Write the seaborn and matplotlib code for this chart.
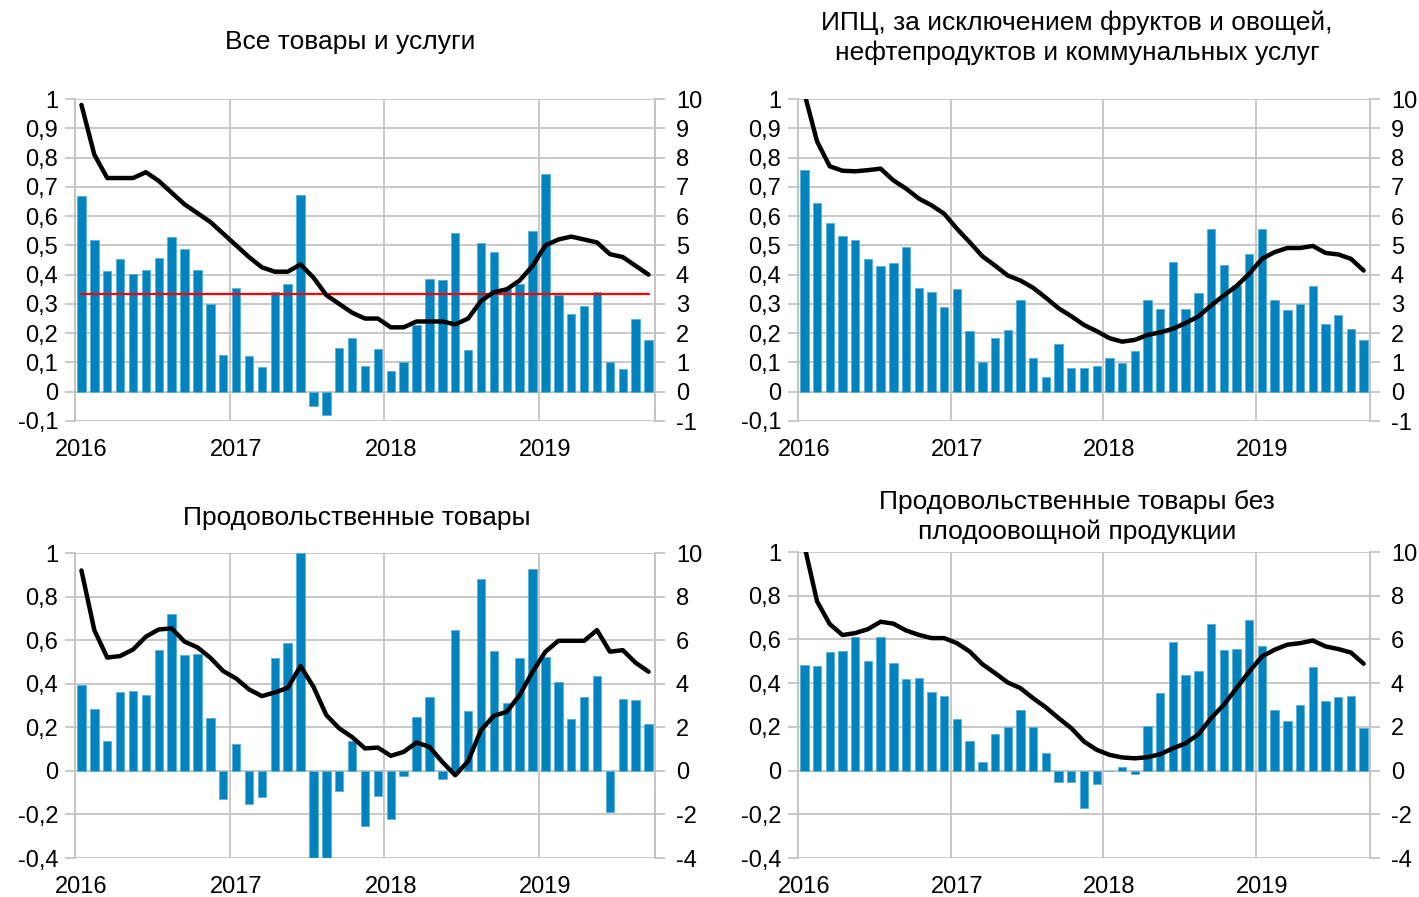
import numpy as np
import pandas as pd
import matplotlib
matplotlib.use('Agg')
import matplotlib.pyplot as plt
import seaborn as sns
from matplotlib.ticker import FixedLocator

# monthly data, Jan 2016 - Sep 2019 (45 months)
months = pd.date_range('2016-01-01', '2019-09-01', freq='MS')
years = ['2016', '2017', '2018', '2019']

# m/m, % SA (left axis)
all_mom = [0.67, 0.52, 0.412, 0.454, 0.402, 0.415, 0.456, 0.528, 0.489, 0.416, 0.30, 0.124,
           0.356, 0.123, 0.084, 0.34, 0.368, 0.672, -0.048, -0.079, 0.151, 0.183, 0.089, 0.147,
           0.072, 0.103, 0.227, 0.384, 0.38, 0.542, 0.143, 0.509, 0.478, 0.35, 0.369, 0.548,
           0.745, 0.33, 0.265, 0.294, 0.34, 0.101, 0.078, 0.25, 0.178]
core_mom = [0.758, 0.645, 0.578, 0.532, 0.517, 0.453, 0.429, 0.44, 0.493, 0.355, 0.34, 0.29,
            0.35, 0.208, 0.10, 0.183, 0.21, 0.314, 0.116, 0.05, 0.164, 0.082, 0.08, 0.089,
            0.115, 0.097, 0.139, 0.314, 0.283, 0.443, 0.282, 0.337, 0.555, 0.432, 0.366, 0.469,
            0.555, 0.312, 0.28, 0.299, 0.362, 0.232, 0.261, 0.215, 0.175]
food_mom = [0.394, 0.286, 0.139, 0.363, 0.366, 0.346, 0.554, 0.718, 0.534, 0.537, 0.242, -0.127,
            0.121, -0.152, -0.119, 0.52, 0.588, 1.0, -0.40, -0.413, -0.093, 0.136, -0.254, -0.115,
            -0.22, -0.023, 0.248, 0.341, -0.038, 0.645, 0.277, 0.88, 0.551, 0.312, 0.519, 0.928,
            0.524, 0.41, 0.239, 0.337, 0.435, -0.19, 0.332, 0.325, 0.216]
foodx_mom = [0.485, 0.478, 0.542, 0.545, 0.609, 0.50, 0.609, 0.492, 0.417, 0.423, 0.36, 0.342,
             0.238, 0.137, 0.038, 0.169, 0.20, 0.278, 0.20, 0.081, -0.053, -0.052, -0.172, -0.06,
             0.0, 0.015, -0.014, 0.206, 0.357, 0.586, 0.435, 0.455, 0.67, 0.55, 0.554, 0.69,
             0.571, 0.279, 0.227, 0.299, 0.472, 0.319, 0.337, 0.34, 0.195]

# y/y, % (right axis)
all_yoy = [9.8, 8.1, 7.3, 7.3, 7.3, 7.5, 7.2, 6.8, 6.4, 6.1, 5.8, 5.4,
           5.0, 4.6, 4.25, 4.1, 4.1, 4.35, 3.9, 3.3, 3.0, 2.7, 2.5, 2.5,
           2.2, 2.2, 2.4, 2.4, 2.4, 2.3, 2.5, 3.1, 3.4, 3.5, 3.8, 4.3,
           5.0, 5.2, 5.3, 5.2, 5.1, 4.7, 4.6, 4.3, 4.0]
core_yoy = [10.2, 8.55, 7.7, 7.55, 7.53, 7.57, 7.62, 7.22, 6.94, 6.6, 6.37, 6.08,
            5.57, 5.11, 4.63, 4.31, 3.97, 3.8, 3.55, 3.21, 2.85, 2.58, 2.28, 2.07,
            1.83, 1.71, 1.77, 1.94, 2.03, 2.15, 2.35, 2.57, 2.95, 3.29, 3.61, 4.03,
            4.54, 4.77, 4.91, 4.91, 4.98, 4.74, 4.69, 4.54, 4.14]
food_yoy = [9.2, 6.46, 5.2, 5.27, 5.57, 6.16, 6.49, 6.54, 5.93, 5.67, 5.19, 4.58,
            4.24, 3.74, 3.43, 3.6, 3.81, 4.81, 3.86, 2.56, 1.95, 1.55, 1.03, 1.07,
            0.69, 0.87, 1.3, 1.1, 0.41, -0.2, 0.44, 1.87, 2.53, 2.71, 3.48, 4.55,
            5.47, 5.97, 5.97, 5.97, 6.46, 5.47, 5.54, 4.96, 4.55]
foodx_yoy = [10.3, 7.74, 6.7, 6.2, 6.29, 6.47, 6.81, 6.72, 6.41, 6.21, 6.06, 6.06,
             5.83, 5.45, 4.87, 4.46, 4.03, 3.77, 3.31, 2.89, 2.4, 1.94, 1.33, 0.95,
             0.72, 0.6, 0.56, 0.61, 0.75, 1.02, 1.25, 1.66, 2.4, 3.01, 3.77, 4.53,
             5.22, 5.53, 5.76, 5.83, 5.95, 5.68, 5.56, 5.4, 4.89]

target_mom = 0.333

titles = ['Все товары и услуги',
          'ИПЦ, за исключением фруктов и овощей,\nнефтепродуктов и коммунальных услуг',
          'Продовольственные товары',
          'Продовольственные товары без\nплодоовощной продукции']

sns.set_theme(style='white')
plt.rcParams['font.family'] = ['Liberation Sans', 'DejaVu Sans']
plt.rcParams['text.color'] = 'black'
plt.rcParams['xtick.labelcolor'] = 'black'
plt.rcParams['ytick.labelcolor'] = 'black'

BAR = '#0083BE'
GRID = '#C4C4C4'
FS = 17

fig = plt.figure(figsize=(14.19, 8.97), dpi=100)

panels = [
    dict(rect=[75/1419, 1-421/897, 580/1419, 322/897], mom=all_mom, yoy=all_yoy,
         lo=-0.1, step=0.1, title=(350, 42)),
    dict(rect=[798/1419, 1-421/897, 572/1419, 322/897], mom=core_mom, yoy=core_yoy,
         lo=-0.1, step=0.1, title=(1077, 38)),
    dict(rect=[75/1419, 1-858/897, 580/1419, 305/897], mom=food_mom, yoy=food_yoy,
         lo=-0.4, step=0.2, title=(357, 518)),
    dict(rect=[798/1419, 1-858/897, 572/1419, 306/897], mom=foodx_mom, yoy=foodx_yoy,
         lo=-0.4, step=0.2, title=(1077, 517)),
]


def fmt(v):
    s = ('%.1f' % v).rstrip('0').rstrip('.')
    if s in ('-0', ''):
        s = '0'
    return s.replace('.', ',')


for k, p in enumerate(panels):
    ax = fig.add_axes(p['rect'])
    df = pd.DataFrame({'pos': np.arange(len(months)) + 0.5,
                       'mom': p['mom'], 'yoy': p['yoy']})
    sns.barplot(data=df, x='pos', y='mom', native_scale=True, color=BAR,
                width=0.66, errorbar=None, saturation=1, ax=ax,
                edgecolor='#5AB0DA', linewidth=0.6)
    if k == 0:
        df['target'] = target_mom
        sns.lineplot(data=df, x='pos', y='target', color='#FF0000', lw=1.6, ax=ax)

    ax.set_xlim(0, 45)
    ax.set_ylim(p['lo'], 1.0)
    yt = np.round(np.arange(p['lo'], 1.0001, p['step']), 2)
    ax.yaxis.set_major_locator(FixedLocator(yt))
    ax.set_yticklabels([fmt(v) for v in yt])
    ax.xaxis.set_major_locator(FixedLocator([0, 12, 24, 36]))
    ax.xaxis.set_minor_locator(FixedLocator([0.5, 12.5, 24.5, 36.5]))
    ax.set_xticklabels([])
    ax.set_xticklabels(years, minor=True)
    ax.tick_params(axis='x', which='both', length=0, labelsize=FS, pad=13, labelcolor='black')
    ax.tick_params(axis='y', length=7, width=1.3, color=GRID, labelsize=FS, pad=5,
                   labelcolor='black')
    ax.grid(True, axis='both', which='major', color=GRID, lw=1.3)
    ax.set_axisbelow(True)
    ax.set_xlabel('')
    ax.set_ylabel('')
    for side in ['top', 'bottom']:
        ax.spines[side].set_visible(False)
    for side in ['left', 'right']:
        ax.spines[side].set_color(GRID)
        ax.spines[side].set_linewidth(1.3)

    ax2 = ax.twinx()
    sns.lineplot(data=df, x='pos', y='yoy', color='black', lw=3.2, ax=ax2)
    ax2.set_ylim(p['lo'] * 10, 10)
    rt = np.round(yt * 10).astype(int)
    ax2.yaxis.set_major_locator(FixedLocator(rt))
    ax2.set_yticklabels([str(v) for v in rt])
    ax2.tick_params(axis='y', length=7, width=1.3, color=GRID, labelsize=FS, pad=8,
                    labelcolor='black')
    ax2.grid(False)
    ax2.set_ylabel('')
    for side in ['top', 'bottom']:
        ax2.spines[side].set_visible(False)
    for side in ['left', 'right']:
        ax2.spines[side].set_color(GRID)
        ax2.spines[side].set_linewidth(1.3)

    tx, ty = p['title']
    fig.text(tx / 1419, 1 - ty / 897, titles[k], ha='center', va='center',
             fontsize=19, linespacing=1.3, color='black')

fig.savefig('out.png', dpi=100, facecolor='white')
